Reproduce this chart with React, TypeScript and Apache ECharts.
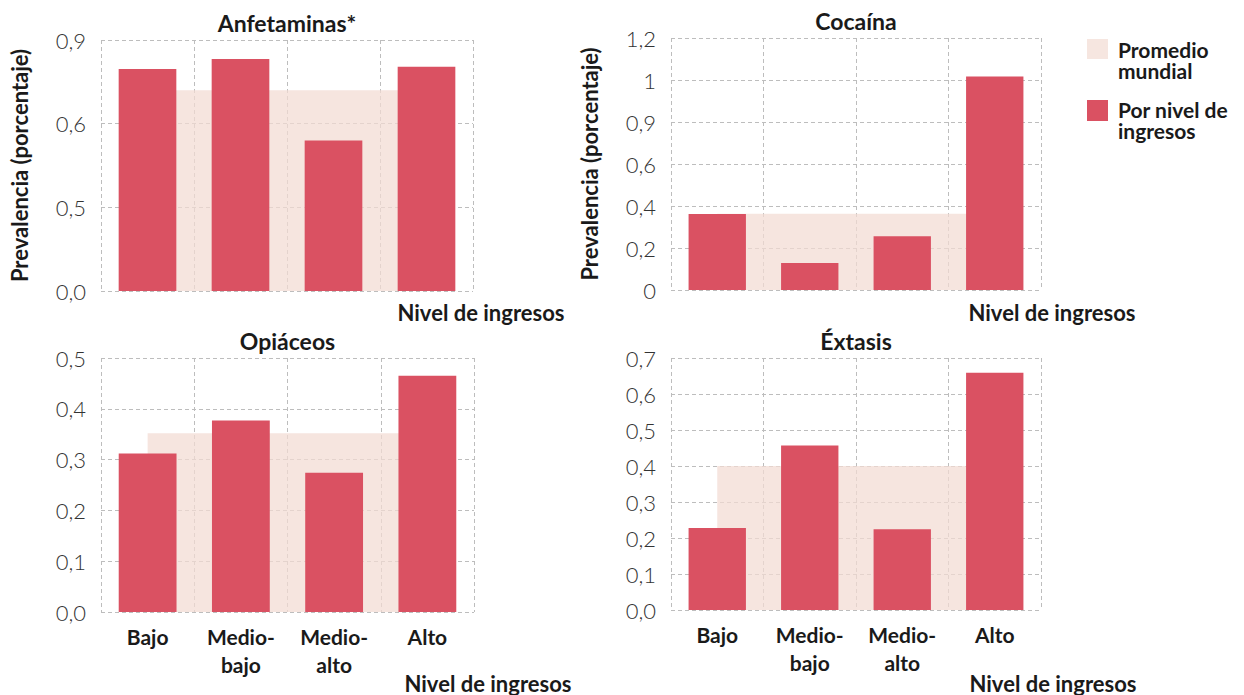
import { useEffect, useRef } from 'react';
import * as echarts from 'echarts';

const categories = ['Bajo', 'Medio-bajo', 'Medio-alto', 'Alto'];

const anfValues = [0.796, 0.832, 0.54, 0.804];
const anfAverage = [0.72, 0.72, 0.72, 0.72];
const anfTicks = ['0,0', '0,5', '0,6', '0,9'];

const cocValues = [0.362, 0.129, 0.256, 1.017];
const cocAverage = [0.363, 0.363, 0.363, 0.363];
const cocTicks = ['0', '0,2', '0,4', '0,6', '0,9', '1', '1,2'];

const opiValues = [0.312, 0.377, 0.274, 0.465];
const opiAverage = [0.352, 0.352, 0.352, 0.352];
const opiTicks = ['0,0', '0,1', '0,2', '0,3', '0,4', '0,5'];

const extValues = [0.228, 0.457, 0.224, 0.659];
const extAverage = [0.4, 0.4, 0.4, 0.4];
const extTicks = ['0,0', '0,1', '0,2', '0,3', '0,4', '0,5', '0,6', '0,7'];

const legendNames = ['Promedio mundial', 'Por nivel de ingresos'];
const legendLabels = ['Promedio\nmundial', 'Por nivel de\ningresos'];
const xAxisTitle = 'Nivel de ingresos';
const yAxisTitle = 'Prevalencia (porcentaje)';

const FONT = 'Lato, "Open Sans", "DejaVu Sans", sans-serif';
const DARK = '#1a1a1a';
const BAR = '#da5162';
const BAND = 'rgba(242,219,211,0.72)';
const BAND_SOLID = '#f6e6e0';
const GRID_LINE = { color: '#bdbdbd', type: [4, 3] as any, width: 1 };

const panels = [
  { title: 'Anfetaminas*', values: anfValues, avg: anfAverage, ticks: anfTicks, max: 0.9, interval: 0.3,
    grid: { left: 101, top: 40, width: 372, height: 251 }, showCats: false, yName: true, nameX: 481, nameY: 312 },
  { title: 'Cocaína', values: cocValues, avg: cocAverage, ticks: cocTicks, max: 1.2, interval: 0.2,
    grid: { left: 671, top: 38, width: 370, height: 252 }, showCats: false, yName: true, nameX: 1052, nameY: 312 },
  { title: 'Opiáceos', values: opiValues, avg: opiAverage, ticks: opiTicks, max: 0.5, interval: 0.1,
    grid: { left: 101, top: 358, width: 373, height: 254 }, showCats: true, yName: false, nameX: 488, nameY: 683 },
  { title: 'Éxtasis', values: extValues, avg: extAverage, ticks: extTicks, max: 0.7, interval: 0.1,
    grid: { left: 671, top: 358, width: 370, height: 252 }, showCats: true, yName: false, nameX: 1053, nameY: 683 },
];

function textEl(text: string, x: number, y: number, size: number, align: string, vAlign: string, lineHeight?: number) {
  return {
    type: 'text',
    silent: true,
    style: {
      text, x, y,
      fill: DARK,
      font: `bold ${size}px ${FONT}`,
      fontSize: size,
      fontWeight: 'bold',
      fontFamily: FONT,
      align, textAlign: align,
      verticalAlign: vAlign, textVerticalAlign: vAlign,
      lineHeight: lineHeight || size * 1.1,
    },
  };
}

export default function App() {
  const ref = useRef<HTMLDivElement>(null);

  useEffect(() => {
    if (!ref.current) return;
    const chart = echarts.init(ref.current, undefined, { renderer: 'svg' });

    const grid = panels.map((p) => ({ ...p.grid, containLabel: false }));
    const xAxis = panels.map((p, i) => ({
      type: 'category',
      gridIndex: i,
      data: categories,
      boundaryGap: true,
      axisLine: { show: false },
      axisTick: { show: false },
      splitLine: { show: true, lineStyle: GRID_LINE },
      axisLabel: {
        show: p.showCats,
        interval: 0,
        formatter: (s: string) => s.replace('-', '-\n'),
        fontFamily: FONT,
        fontSize: 21,
        fontWeight: 'bold',
        color: DARK,
        lineHeight: 28,
        margin: 10,
      },
    }));
    const yAxis = panels.map((p, i) => ({
      type: 'value',
      gridIndex: i,
      min: 0,
      max: p.max,
      interval: p.interval,
      axisLine: { show: false },
      axisTick: { show: false },
      splitLine: { show: true, lineStyle: GRID_LINE },
      axisLabel: {
        formatter: (_v: number, idx: number) => p.ticks[idx],
        fontFamily: FONT,
        fontSize: 22,
        fontWeight: 300,
        color: '#333',
        margin: 15,
      },
      name: p.yName ? yAxisTitle : '',
      nameLocation: 'middle',
      nameGap: 71,
      nameRotate: 90,
      nameTextStyle: { fontFamily: FONT, fontSize: 22, fontWeight: 'bold', color: DARK },
    }));
    const series: any[] = [];
    panels.forEach((p, i) => {
      series.push({
        name: legendNames[0],
        type: 'line',
        xAxisIndex: i,
        yAxisIndex: i,
        data: p.avg,
        symbol: 'none',
        silent: true,
        z: 1,
        lineStyle: { width: 0, opacity: 0 },
        areaStyle: { color: BAND, opacity: 1 },
      });
      series.push({
        name: legendNames[1],
        type: 'bar',
        xAxisIndex: i,
        yAxisIndex: i,
        data: p.values,
        barCategoryGap: '38%',
        z: 3,
        itemStyle: { color: BAR },
      });
    });

    const graphic: any[] = [];
    panels.forEach((p) => {
      graphic.push(textEl(p.title, p.grid.left + p.grid.width / 2, p.grid.top - 17, 23, 'center', 'middle'));
      graphic.push(textEl(xAxisTitle, p.nameX, p.nameY, 22, 'center', 'middle'));
    });
    graphic.push({ type: 'rect', silent: true, shape: { x: 1087, y: 39, width: 21, height: 20 }, style: { fill: BAND_SOLID } });
    graphic.push(textEl(legendLabels[0], 1118, 39, 21, 'left', 'top', 21));
    graphic.push({ type: 'rect', silent: true, shape: { x: 1087, y: 100, width: 21, height: 21 }, style: { fill: BAR } });
    graphic.push(textEl(legendLabels[1], 1118, 99, 21, 'left', 'top', 21));

    chart.setOption({
      animation: false,
      backgroundColor: '#ffffff',
      textStyle: { fontFamily: FONT },
      grid,
      xAxis,
      yAxis,
      series,
      graphic,
    });
    return () => chart.dispose();
  }, []);

  return <div ref={ref} style={{ position: 'fixed', left: 0, top: 0, width: 1244, height: 695 }} />;
}
